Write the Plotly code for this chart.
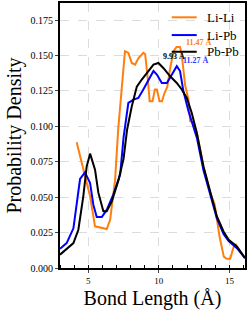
import plotly.graph_objects as go

# Li-Li
lili_x = [4.18, 4.65, 5.13, 5.48, 5.84, 6.31, 6.55, 6.9, 7.12, 7.37, 7.6, 7.84, 8.08, 8.32, 8.55, 8.9, 9.03,
          9.2, 9.35, 9.55, 9.72, 9.86, 10.05, 10.22, 10.4, 10.6, 10.8, 11.04, 11.25, 11.5, 11.62, 11.86,
          12.1, 12.22, 12.45, 12.69, 13.16, 13.64, 13.95, 14.3, 14.6, 14.8, 15.05, 15.3, 15.5]
lili_y = [0.0887, 0.0694, 0.0506, 0.0294, 0.0287, 0.0275, 0.034, 0.062, 0.0976, 0.126, 0.153, 0.1518, 0.1447,
          0.1435, 0.148, 0.1518, 0.151, 0.135, 0.1176, 0.1176, 0.126, 0.126, 0.1176, 0.1176, 0.1235, 0.128,
          0.141, 0.153, 0.156, 0.156, 0.1506, 0.129, 0.1188, 0.1035, 0.1028, 0.0953, 0.0717, 0.053, 0.045,
          0.022, 0.008, 0.0065, 0.0065, 0.015, 0.017]

# Li-Pb
lipb_x = [3.0, 3.47, 3.95, 4.42, 4.77, 5.13, 5.36, 5.6, 5.96, 6.31, 6.78, 7.26, 7.5, 7.84, 8.2, 8.55, 8.9,
          9.26, 9.62, 9.86, 10.21, 10.57, 10.92, 11.27, 11.5, 11.74, 12.1, 12.69, 13.16, 13.64, 14.11,
          14.58, 14.94, 15.53, 16.1]
lipb_y = [0.0135, 0.0176, 0.028, 0.0628, 0.0675, 0.060, 0.0447, 0.036, 0.036, 0.041, 0.052, 0.066, 0.092,
          0.1165, 0.1188, 0.12, 0.126, 0.133, 0.139, 0.1365, 0.1306, 0.1306, 0.1365, 0.1424, 0.139, 0.1247,
          0.1106, 0.092, 0.069, 0.051, 0.035, 0.024, 0.019, 0.014, 0.007]

# Pb-Pb
pbpb_x = [3.0, 3.59, 3.95, 4.3, 4.65, 4.89, 5.13, 5.48, 5.72, 6.07, 6.31, 6.67, 7.14, 7.5, 7.75, 8.08, 8.44,
          8.79, 9.15, 9.62, 9.97, 10.33, 10.8, 11.27, 11.62, 11.98, 12.33, 12.69, 13.16, 13.64, 14.11,
          14.58, 14.94, 15.53, 16.1]
pbpb_y = [0.0094, 0.0141, 0.0176, 0.027, 0.0506, 0.0717, 0.0807, 0.0694, 0.053, 0.040, 0.040, 0.047, 0.062,
          0.077, 0.0976, 0.114, 0.128, 0.133, 0.1376, 0.1435, 0.1447, 0.141, 0.1353, 0.1306, 0.126, 0.12,
          0.1094, 0.0953, 0.0717, 0.053, 0.0364, 0.0258, 0.020, 0.0153, 0.007]

series_names = ["Li-Li", "Li-Pb", "Pb-Pb"]
series_colors = ["#ff7f0e", "#0000ff", "#000000"]

peak_labels = ["11.47 Å", "11.27 Å", "9.93 Å"]
peak_label_x = [12.84, 12.62, 11.08]
peak_label_y = [0.1594, 0.1462, 0.1490]
peak_label_colors = ["#ff7f0e", "#3333ff", "#000000"]

x_tickvals = [5, 10, 15]
y_tickvals = [0.0, 0.025, 0.05, 0.075, 0.1, 0.125, 0.15, 0.175]

FONT = "Liberation Serif, Times New Roman, serif"

fig = go.Figure()
for xs, ys, name, col in zip([lili_x, lipb_x, pbpb_x], [lili_y, lipb_y, pbpb_y], series_names, series_colors):
    fig.add_trace(go.Scatter(x=xs, y=ys, mode="lines", name=name, showlegend=False,
                             line=dict(color=col, width=2)))

for t, xx, yy, c in zip(peak_labels, peak_label_x, peak_label_y, peak_label_colors):
    fig.add_annotation(x=xx, y=yy, text="<b>" + t + "</b>", showarrow=False,
                       font=dict(family=FONT, size=8, color=c))

# legend drawn in paper coordinates (upper right)
legend_y = [0.946, 0.879, 0.816]
for name, col, ly in zip(series_names, series_colors, legend_y):
    fig.add_shape(type="line", xref="paper", yref="paper", x0=0.604, x1=0.739, y0=ly, y1=ly,
                  line=dict(color=col, width=2))
    fig.add_annotation(xref="paper", yref="paper", x=0.784, y=ly, xanchor="left", yanchor="middle",
                       text=name, showarrow=False, font=dict(family=FONT, size=13, color="black"))

fig.update_layout(
    width=249, height=315,
    margin=dict(l=60, r=4, t=3, b=47, autoexpand=False),
    plot_bgcolor="white", paper_bgcolor="white",
    font=dict(family=FONT, color="black"),
    showlegend=False,
)
fig.update_xaxes(
    range=[3, 16.1], tickvals=x_tickvals, ticks="outside", ticklen=3, tickwidth=1,
    tickfont=dict(size=9), showline=True, linewidth=2, linecolor="black", mirror=True,
    showgrid=True, gridcolor="#dcdcdc", griddash="dash", gridwidth=0.8, zeroline=False,
    minor=dict(dtick=1, ticks="inside", ticklen=3, tickcolor="black", showgrid=False),
    title=dict(text="Bond Length (Å)", font=dict(size=20), standoff=6), automargin=False,
)
fig.update_yaxes(
    range=[0, 0.187], tickvals=y_tickvals, tickformat=".3f", ticks="outside", ticklen=3,
    tickfont=dict(size=10), showline=True, linewidth=2, linecolor="black", mirror=True,
    showgrid=True, gridcolor="#dcdcdc", griddash="dash", gridwidth=0.8, zeroline=False,
    title=dict(text="Probability Density", font=dict(size=20), standoff=4), automargin=False,
)

fig.write_html("out.html", post_script="document.body.style.margin='0';",
               config={"displayModeBar": False})
